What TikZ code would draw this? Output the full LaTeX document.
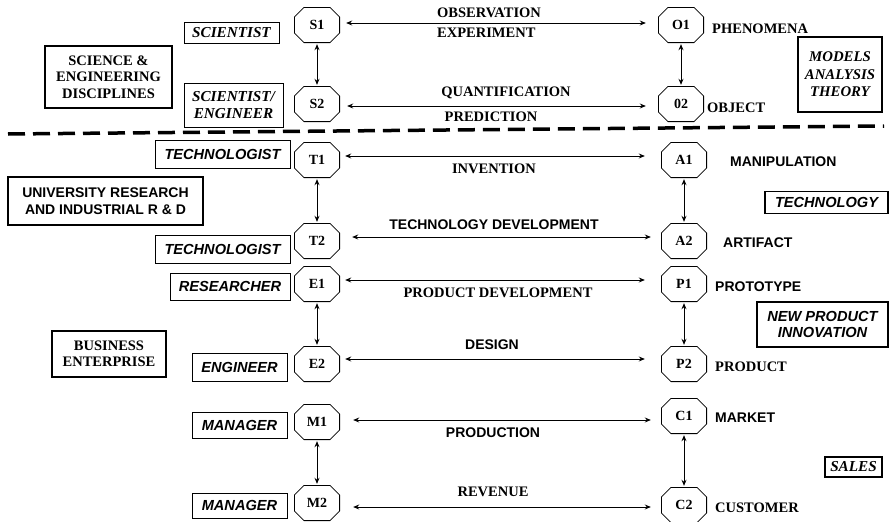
\documentclass[tikz,border=0pt]{standalone}
\usepackage{fontspec}
\setmainfont{Liberation Serif}
\setsansfont{Liberation Sans}
\usetikzlibrary{arrows.meta}
\newcommand\rmB{\fontsize{14.5}{16.5}\selectfont\rmfamily\bfseries}
\newcommand\rmBI{\fontsize{15.2}{16.5}\selectfont\rmfamily\bfseries\itshape}
\newcommand\rmBIb{\fontsize{14.8}{17.5}\selectfont\rmfamily\bfseries\itshape}
\newcommand\sfB{\fontsize{14}{16.5}\selectfont\sffamily\bfseries}
\newcommand\sfBI{\fontsize{14.6}{16.5}\selectfont\sffamily\bfseries\itshape}
\begin{document}
\begin{tikzpicture}[x=1pt,y=-1pt,
  oct/.style={rectangle, minimum width=46pt, minimum height=36pt, inner sep=0pt,
    font=\fontsize{14}{16}\selectfont\rmfamily\bfseries,
    path picture={\draw[line width=0.8pt]
      ([shift={(10pt,-0.4pt)}]path picture bounding box.north west) --
      ([shift={(-10pt,-0.4pt)}]path picture bounding box.north east) --
      ([shift={(-0.4pt,-10pt)}]path picture bounding box.north east) --
      ([shift={(-0.4pt,10pt)}]path picture bounding box.south east) --
      ([shift={(-10pt,0.4pt)}]path picture bounding box.south east) --
      ([shift={(10pt,0.4pt)}]path picture bounding box.south west) --
      ([shift={(0.4pt,10pt)}]path picture bounding box.south west) --
      ([shift={(0.4pt,-10pt)}]path picture bounding box.north west) -- cycle;}},
  role/.style={draw, line width=1pt, inner sep=0pt, align=center},
  big/.style={draw, line width=2.6pt, inner sep=0pt, align=center},
  lab/.style={anchor=west, inner sep=0pt},
  txt/.style={inner sep=0pt},
  arr/.style={{Stealth[length=6pt,width=5pt]}-{Stealth[length=6pt,width=5pt]}, line width=0.9pt},
  varr/.style={arr, shorten <=1pt, shorten >=1pt}
  ]
\useasboundingbox (0,0) rectangle (889,522);

% octagons
\node[oct] (S1) at (317,25) {S1};
\node[oct] (S2) at (317,104) {S2};
\node[oct] (O1) at (681,25) {O1};
\node[oct] (O2) at (681,104) {02};
\node[oct] (T1) at (317,160) {T1};
\node[oct] (T2) at (317,241) {T2};
\node[oct] (A1) at (684,160) {A1};
\node[oct] (A2) at (684,241) {A2};
\node[oct] (E1) at (317,284) {E1};
\node[oct] (E2) at (317,364) {E2};
\node[oct] (P1) at (684,284) {P1};
\node[oct] (P2) at (684,364) {P2};
\node[oct] (M1) at (317,422) {M1};
\node[oct] (M2) at (317,503) {M2};
\node[oct] (C1) at (684,416) {C1};
\node[oct] (C2) at (684,505) {C2};

% vertical arrows
\draw[varr] (S1) -- (S2);
\draw[varr] (O1) -- (O2);
\draw[varr] (T1) -- (T2);
\draw[varr] (A1) -- (A2);
\draw[varr] (E1) -- (E2);
\draw[varr] (P1) -- (P2);
\draw[varr] (M1) -- (M2);
\draw[varr] (C1) -- (C2);

% horizontal arrows
\draw[arr, shorten <=6pt, shorten >=12pt] ([yshift=2pt]S1.east) -- ([yshift=2pt]O1.west);
\draw[arr, shorten <=7pt, shorten >=12pt] ([yshift=-2pt]S2.east) -- ([yshift=-2pt]O2.west);
\draw[arr, shorten <=5pt, shorten >=16pt] ([yshift=4pt]T1.east) -- ([yshift=4pt]A1.west);
\draw[arr, shorten <=12pt, shorten >=10pt] ([yshift=4pt]T2.east) -- ([yshift=4pt]A2.west);
\draw[arr, shorten <=5pt, shorten >=16pt] ([yshift=4pt]E1.east) -- ([yshift=4pt]P1.west);
\draw[arr, shorten <=5pt, shorten >=16pt] ([yshift=5pt]E2.east) -- ([yshift=5pt]P2.west);
\draw[arr, shorten <=13pt, shorten >=10pt] ([yshift=2pt]M1.east) -- ([yshift=-4pt]C1.west);
\draw[arr, shorten <=13pt, shorten >=10pt] ([yshift=-4pt]M2.east) -- ([yshift=-2pt]C2.west);

% arrow labels
\node[txt, anchor=west, font=\rmB] (l1) at (437,13) {OBSERVATION};
\node[txt, anchor=west, font=\rmB] (l2) at (437,33) {EXPERIMENT};
\node[txt, font=\rmB] (l3) at (506,93) {QUANTIFICATION};
\node[txt, font=\rmB] (l4) at (491,117) {PREDICTION};
\node[txt, font=\rmB] (l5) at (494,169) {INVENTION};
\node[txt, font=\sfB] (l6) at (494,225) {TECHNOLOGY DEVELOPMENT};
\node[txt, font=\rmB] (l7) at (498,293) {PRODUCT DEVELOPMENT};
\node[txt, font=\sfB] (l8) at (492,345) {DESIGN};
\node[txt, font=\sfB] (l9) at (493,433) {PRODUCTION};
\node[txt, font=\rmB] (l10) at (493,492) {REVENUE};

% right labels
\node[lab, font=\rmB] (r1) at (712,29) {PHENOMENA};
\node[lab, font=\rmB] (r2) at (707,108) {OBJECT};
\node[lab, font=\sfB] (r3) at (730,162) {MANIPULATION};
\node[lab, font=\sfB] (r4) at (723,243) {ARTIFACT};
\node[lab, font=\sfB] (r5) at (715,287) {PROTOTYPE};
\node[lab, font=\rmB] (r6) at (715,367) {PRODUCT};
\node[lab, font=\sfB] (r7) at (715,418) {MARKET};
\node[lab, font=\rmB] (r8) at (715,508) {CUSTOMER};

% role boxes
\node[role, font=\rmBI, minimum width=95pt, minimum height=21pt] (b1) at (231.5,33) {SCIENTIST};
\node[role, font=\rmBI, minimum width=99pt, minimum height=44pt] (b2) at (233.5,105) {SCIENTIST/\\ENGINEER};
\node[role, font=\sfBI, minimum width=135pt, minimum height=28pt] (b3) at (222.5,154) {TECHNOLOGIST};
\node[role, font=\sfBI, minimum width=135pt, minimum height=28pt] (b4) at (222.5,249) {TECHNOLOGIST};
\node[role, font=\sfBI, minimum width=120pt, minimum height=27pt] (b5) at (230,286.5) {RESEARCHER};
\node[role, font=\sfBI, minimum width=95pt, minimum height=28pt] (b6) at (239.5,367) {ENGINEER};
\node[role, font=\sfBI, minimum width=95pt, minimum height=26pt] (b7) at (239.5,425) {MANAGER};
\node[role, font=\sfBI, minimum width=95pt, minimum height=25pt] (b8) at (239.5,505.5) {MANAGER};

% big boxes left
\node[big, font=\rmB, minimum width=127pt, minimum height=62pt] (g1) at (108.5,77) {SCIENCE \&\\ENGINEERING\\DISCIPLINES};
\node[big, font=\sfB, minimum width=195pt, minimum height=48pt] (g2) at (105.5,201) {UNIVERSITY RESEARCH\\AND INDUSTRIAL R \& D};
\node[big, font=\rmB, minimum width=114pt, minimum height=46pt] (g3) at (109,354) {BUSINESS\\ENTERPRISE};

% big boxes right
\node[big, font=\rmBIb, minimum width=84pt, minimum height=75pt] (h1) at (840,74.5) {MODELS\\ANALYSIS\\THEORY};
\node[big, line width=1.8pt, font=\sfBI, minimum width=123pt, minimum height=22pt] (h2) at (826.5,202.5) {TECHNOLOGY};
\node[big, font=\sfBI, minimum width=131pt, minimum height=45pt] (h3) at (822.5,324.5) {NEW PRODUCT\\INNOVATION};
\node[big, line width=1.6pt, font=\rmBI, minimum width=57pt, minimum height=20pt] (h4) at (853.5,467) {SALES};

% dashed separator
\coordinate (dl) at (8,134);
\coordinate (dr) at (884,126);
\draw[line width=3.5pt, dash pattern=on 17pt off 8pt] (dl) -- (dr);
\end{tikzpicture}
\end{document}
